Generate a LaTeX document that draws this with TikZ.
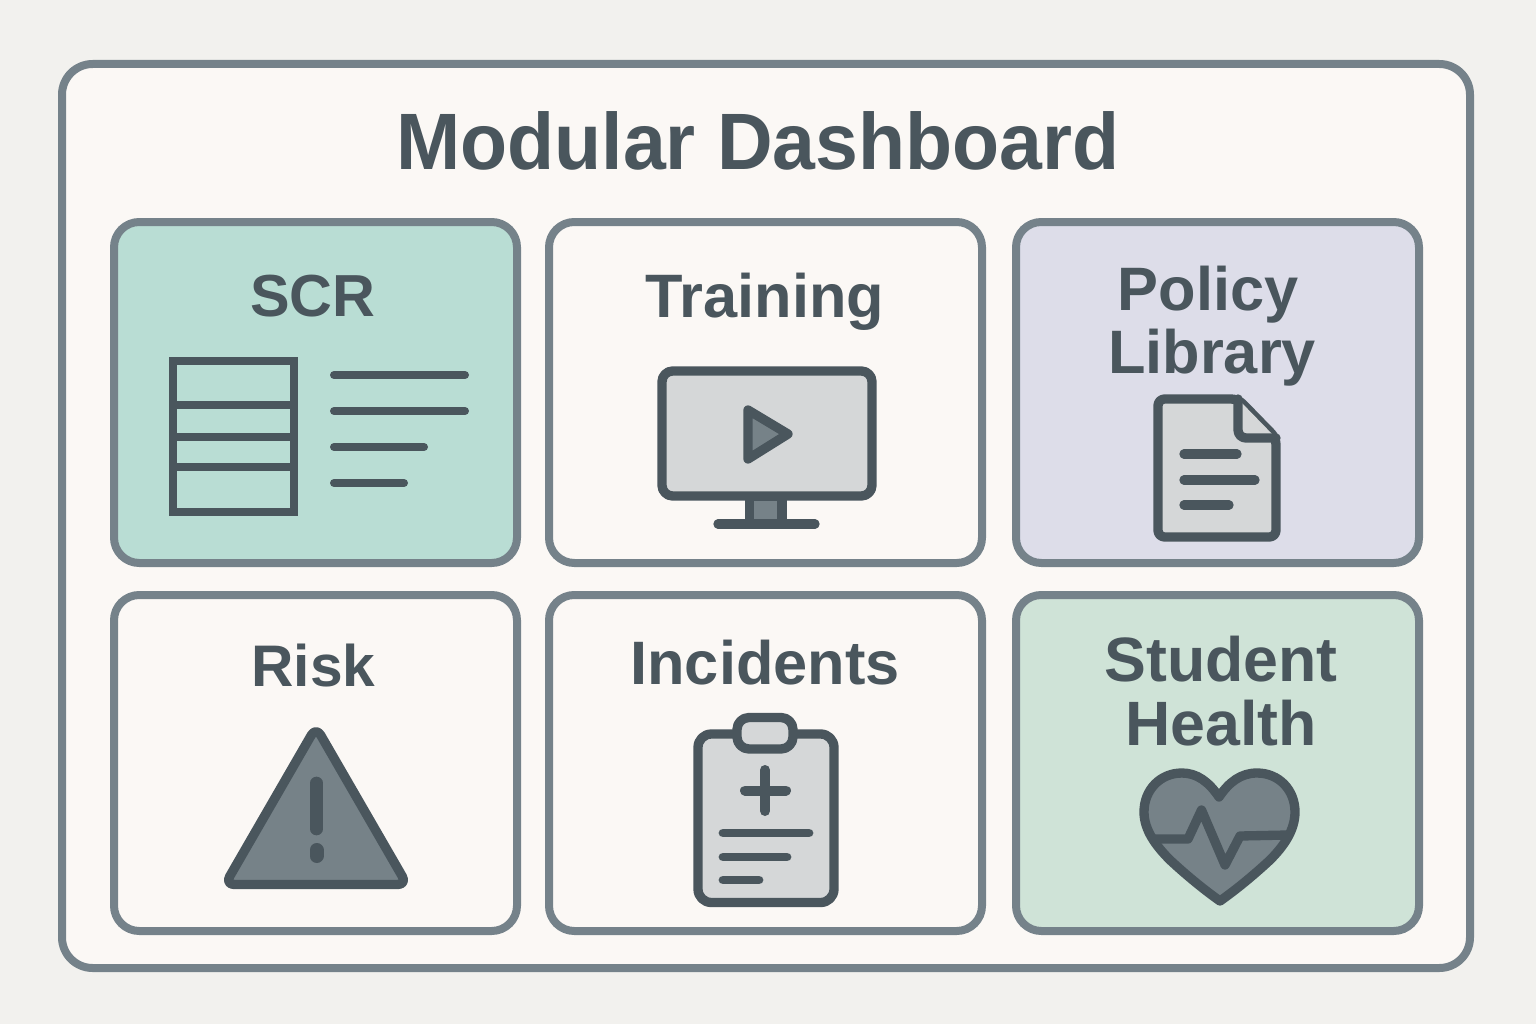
\documentclass[tikz,border=0pt]{standalone}
\usepackage{fontspec}
\setmainfont{Liberation Sans}
\newfontfamily\titlefont[FakeStretch=0.963]{Liberation Sans}
\definecolor{pagebg}{RGB}{242,241,238}
\definecolor{panelbg}{RGB}{251,248,245}
\definecolor{edgegray}{RGB}{117,130,138}
\definecolor{inkgray}{RGB}{74,86,93}
\definecolor{iconlight}{RGB}{213,215,216}
\definecolor{icondark}{RGB}{118,130,136}
\definecolor{scrgreen}{RGB}{185,221,212}
\definecolor{policylilac}{RGB}{221,221,233}
\definecolor{healthgreen}{RGB}{207,227,215}
\begin{document}
\begin{tikzpicture}[x=0.75pt,y=0.75pt,yscale=-1,xscale=1,
  cardbox/.style={draw=edgegray,line width=6pt,rounded corners=19pt},
  cardtitle/.style={anchor=base,inner sep=0pt,text=inkgray,font=\fontsize{46}{46}\selectfont\bfseries},
  iconline/.style={draw=inkgray,line width=7pt,line cap=round,line join=round},
  iconthin/.style={draw=inkgray,line width=6pt,line join=miter}]

%Shape: Page [id:page]
\fill [pagebg] (0,0) rectangle (1536,1024);
%Shape: Outer panel [id:panel]
\draw [draw=edgegray,fill=panelbg,line width=6pt,rounded corners=23pt] (62,64) rectangle (1470,968);

%Shape: Cards [id:cards]
\draw [cardbox,fill=scrgreen] (114,222) rectangle (517,563);
\draw [cardbox,fill=panelbg] (549,222) rectangle (982,563);
\draw [cardbox,fill=policylilac] (1016,222) rectangle (1419,563);
\draw [cardbox,fill=panelbg] (114,595) rectangle (517,931);
\draw [cardbox,fill=panelbg] (549,595) rectangle (982,931);
\draw [cardbox,fill=healthgreen] (1016,595) rectangle (1419,931);

% Text Node
\node [anchor=base,inner sep=0pt,text=inkgray,font=\fontsize{60}{60}\titlefont\bfseries] (title) at (758,170) {Modular Dashboard};
% Text Node
\node [cardtitle,font=\fontsize{44.5}{46}\selectfont\bfseries] (scr) at (313,316) {SCR};
\node [cardtitle] (training) at (765,317) {Training};
\node [cardtitle] (policy) at (1208,310) {Policy};
\node [cardtitle] (library) at (1212,373) {Library};
\node [cardtitle,font=\fontsize{44}{46}\selectfont\bfseries] (risk) at (313.5,686) {Risk};
\node [cardtitle] (incidents) at (765,684) {Incidents};
\node [cardtitle,font=\fontsize{47}{46}\selectfont\bfseries] (student) at (1221,681) {Student};
\node [cardtitle,font=\fontsize{47}{46}\selectfont\bfseries] (health) at (1221,745) {Health};

%Shape: Table [id:scrtable]
\draw [iconthin] (173,404.5) -- (294,404.5);
\draw [iconthin] (173,436.5) -- (294,436.5);
\draw [iconthin] (173,466.5) -- (294,466.5);
\draw [iconthin] (173,360.5) rectangle (294,511.5);
%Straight Lines [id:scrlines]
\draw [iconline,line width=6pt] (334,375) -- (465,375);
\draw [iconline,line width=6pt] (334,411) -- (465,411);
\draw [iconline,line width=6pt] (334,447) -- (424,447);
\draw [iconline,line width=6pt] (334,483) -- (404,483);

%Shape: Monitor [id:monitor]
\draw [iconline,fill=icondark] (749.5,496) rectangle (782,524);
\draw [iconline] (718,524) -- (815,524);
\draw [iconline,fill=iconlight,rounded corners=8pt] (662,371) rectangle (872,496);
\draw [iconline,fill=icondark] (748,410) -- (788,434) -- (748,459) -- cycle;

%Shape: Document [id:document]
\draw [iconline,fill=iconlight,rounded corners=5pt] (1158,399) -- (1238,399) -- (1276,438) -- (1276,537) -- (1158,537) -- cycle;
\draw [iconline,fill=iconlight,rounded corners=6pt] (1238,399) -- (1238,438) -- (1276,438);
\draw [iconline] (1184,454) -- (1237,454);
\draw [iconline] (1184,480) -- (1255,480);
\draw [iconline] (1184,505) -- (1229,505);

%Shape: Warning triangle [id:warning]
\draw [iconline,fill=icondark,rounded corners=7pt] (316,727) -- (407,884.5) -- (225,884.5) -- cycle;
\draw [draw=inkgray,line width=9.5pt,line cap=round] (316.5,783) -- (316.5,829);
\draw [draw=inkgray,line width=10.5pt,line cap=round] (316.5,850) -- (316.5,856);

%Shape: Clipboard [id:clipboard]
\draw [iconline,fill=iconlight,rounded corners=10pt] (698,734) rectangle (834,902.5);
\draw [iconline,fill=iconlight,rounded corners=9pt] (737,717.5) rectangle (793,749);
\draw [iconline,line width=7.5pt] (765,770) -- (765,811);
\draw [iconline,line width=7.5pt] (745,790.5) -- (786,790.5);
\draw [iconline,line width=6.6pt] (723,833) -- (809,833);
\draw [iconline,line width=6.6pt] (723,857) -- (787,857);
\draw [iconline,line width=6.6pt] (723,880) -- (759,880);

%Shape: Heart [id:heart]
\draw [iconline,fill=icondark] (1219,797) .. controls (1209,782) and (1197,773) .. (1182,773) .. controls (1160,773) and (1144,790) .. (1144,812) .. controls (1144,830) and (1156,846) .. (1170,860) .. controls (1185,874) and (1203,889) .. (1220,901) .. controls (1237,889) and (1255,874) .. (1270,860) .. controls (1284,846) and (1295,830) .. (1295,812) .. controls (1295,790) and (1279,773) .. (1257,773) .. controls (1241,773) and (1229,782) .. (1219,797) -- cycle;
%Straight Lines [id:pulse]
\draw [iconline] (1155,839) -- (1188,839) -- (1201.5,810) -- (1225,865) -- (1240,836) -- (1288,835);

\end{tikzpicture}
\end{document}
